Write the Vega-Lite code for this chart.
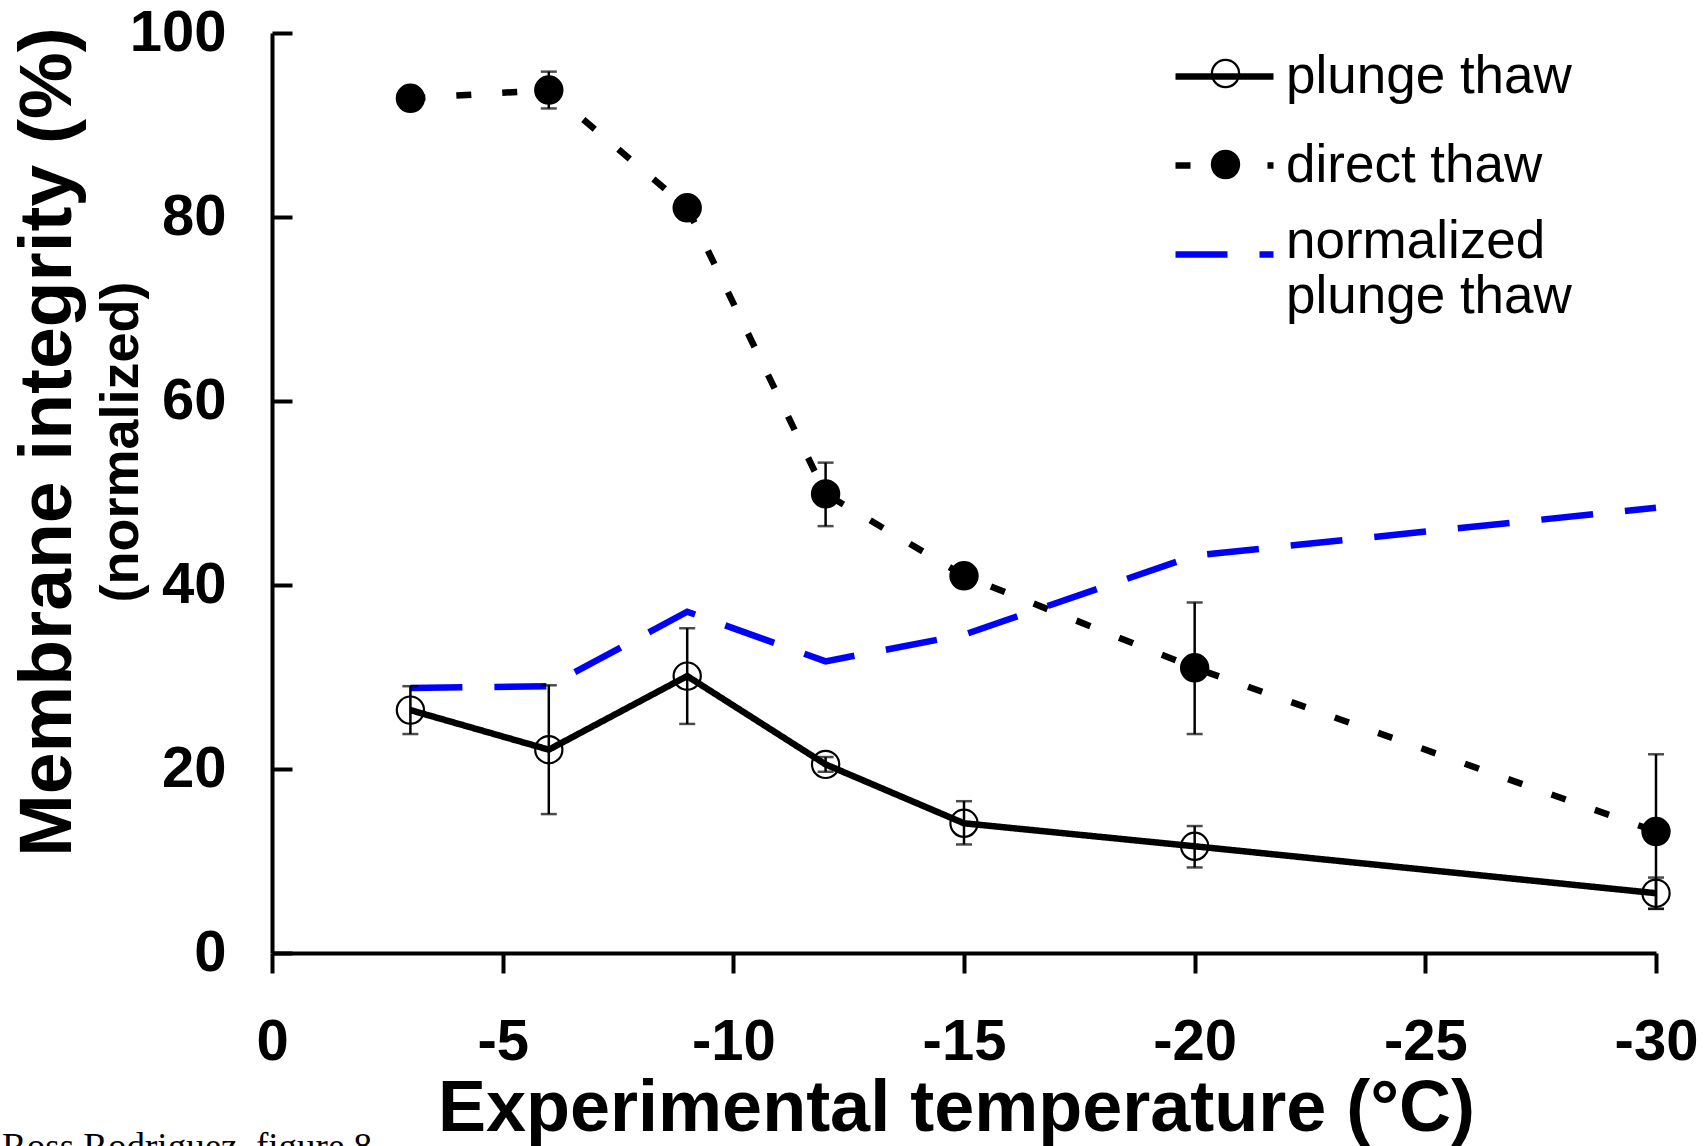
{
  "$schema": "https://vega.github.io/schema/vega-lite/v6.json",
  "width": 1384,
  "height": 920,
  "autosize": {"type": "none"},
  "padding": {"left": 272, "top": 33, "right": 50, "bottom": 193},
  "background": "white",
  "config": {
    "view": {"stroke": null},
    "font": "Liberation Sans",
    "axis": {
      "grid": false,
      "domainColor": "black",
      "domainWidth": 4,
      "tickColor": "black",
      "tickWidth": 4,
      "labelColor": "black",
      "labelFont": "Liberation Sans",
      "labelFontWeight": "bold",
      "labelFontSize": 58,
      "labelFlush": false,
      "labelOverlap": false,
      "titleColor": "black",
      "titleFont": "Liberation Sans",
      "titleFontWeight": "bold"
    }
  },
  "title": {
    "text": "Membrane integrity (%)",
    "subtitle": "(normalized)\u00a0\u00a0",
    "orient": "left",
    "anchor": "middle",
    "font": "Liberation Sans",
    "fontSize": 75,
    "fontWeight": "bold",
    "color": "black",
    "subtitleFont": "Liberation Sans",
    "subtitleFontSize": 54,
    "subtitleFontWeight": "bold",
    "subtitleColor": "black",
    "subtitlePadding": 8,
    "offset": -148,
    "dx": 51
  },
  "datasets": {
    "series": [
      {"t": -3, "series": "plunge thaw", "v": 26.4, "lo": 23.8, "hi": 29.0},
      {"t": -6, "series": "plunge thaw", "v": 22.1, "lo": 15.1, "hi": 29.1},
      {"t": -9, "series": "plunge thaw", "v": 30.1, "lo": 24.9, "hi": 35.3},
      {"t": -12, "series": "plunge thaw", "v": 20.5, "lo": 19.7, "hi": 21.3},
      {"t": -15, "series": "plunge thaw", "v": 14.1, "lo": 11.8, "hi": 16.5},
      {"t": -20, "series": "plunge thaw", "v": 11.6, "lo": 9.3, "hi": 13.8},
      {"t": -30, "series": "plunge thaw", "v": 6.5, "lo": 4.8, "hi": 8.2},
      {"t": -3, "series": "direct thaw", "v": 92.9, "lo": 92.2, "hi": 93.6},
      {"t": -6, "series": "direct thaw", "v": 93.8, "lo": 91.8, "hi": 95.8},
      {"t": -9, "series": "direct thaw", "v": 81.0, "lo": 80.3, "hi": 81.7},
      {"t": -12, "series": "direct thaw", "v": 49.9, "lo": 46.4, "hi": 53.3},
      {"t": -15, "series": "direct thaw", "v": 41.0, "lo": 40.3, "hi": 41.7},
      {"t": -20, "series": "direct thaw", "v": 31.0, "lo": 23.8, "hi": 38.1},
      {"t": -30, "series": "direct thaw", "v": 13.2, "lo": 4.8, "hi": 21.6},
      {"t": -3, "series": "normalized plunge thaw", "v": 28.8},
      {"t": -6, "series": "normalized plunge thaw", "v": 29.0},
      {"t": -9, "series": "normalized plunge thaw", "v": 37.1},
      {"t": -12, "series": "normalized plunge thaw", "v": 31.7},
      {"t": -15, "series": "normalized plunge thaw", "v": 34.6},
      {"t": -20, "series": "normalized plunge thaw", "v": 43.2},
      {"t": -30, "series": "normalized plunge thaw", "v": 48.4}
    ],
    "notes": [
      {"note": "Ross Rodriguez, figure 8", "nx": 5.85, "ny": -22.4}
    ]
  },
  "layer": [
    {
      "data": {"name": "series"},
      "mark": {"type": "line", "strokeWidth": 6.5, "strokeCap": "butt"},
      "encoding": {
        "x": {
          "field": "t",
          "type": "quantitative",
          "scale": {"domain": [0, -30], "nice": false, "zero": false},
          "axis": {
            "values": [0, -5, -10, -15, -20, -25, -30],
            "labelExpr": "datum.value == 0 ? '0' : '-' + abs(datum.value)",
            "title": "Experimental temperature (°C)",
            "titleFontSize": 72,
            "titlePadding": 2,
            "titleX": 684,
            "tickSize": 20,
            "labelPadding": 40
          }
        },
        "y": {
          "field": "v",
          "type": "quantitative",
          "scale": {"domain": [0, 100], "nice": false},
          "axis": {
            "values": [0, 20, 40, 60, 80, 100],
            "title": null,
            "tickSize": -20,
            "labelPadding": 66
          }
        },
        "color": {
          "field": "series",
          "type": "nominal",
          "scale": {
            "domain": ["plunge thaw", "direct thaw", "normalized plunge thaw"],
            "range": ["black", "black", "#0000ff"]
          },
          "legend": {
            "orient": "none",
            "legendX": 900,
            "legendY": -9,
            "title": null,
            "padding": 0,
            "symbolType": "stroke",
            "symbolSize": 9604,
            "symbolStrokeWidth": 6.5,
            "labelFont": "Liberation Sans",
            "labelFontSize": 53,
            "labelColor": "black",
            "labelLimit": 700,
            "labelOffset": 9,
            "rowPadding": 9,
            "labelExpr": "datum.label == 'normalized plunge thaw' ? ['normalized', 'plunge thaw'] : datum.label",
            "encode": {
              "labels": {
                "update": {
                  "dy": {"signal": "datum.value == 'normalized plunge thaw' ? -13 : 0"}
                }
              }
            }
          }
        },
        "strokeDash": {
          "field": "series",
          "type": "nominal",
          "scale": {
            "domain": ["plunge thaw", "direct thaw", "normalized plunge thaw"],
            "range": [[1, 0], [15, 31], [52, 32]]
          },
          "legend": {
            "orient": "none",
            "legendX": 900,
            "legendY": -9,
            "title": null
          }
        }
      }
    },
    {
      "data": {"name": "series"},
      "transform": [{"filter": "datum.series != 'normalized plunge thaw'"}],
      "mark": {"type": "errorbar", "ticks": {"size": 16, "thickness": 2.5}, "rule": {"strokeWidth": 2.5}, "thickness": 2.5, "color": "black"},
      "encoding": {
        "x": {"field": "t", "type": "quantitative"},
        "y": {"field": "lo", "type": "quantitative", "title": null},
        "y2": {"field": "hi"}
      }
    },
    {
      "data": {"name": "series"},
      "transform": [{"filter": "datum.series != 'normalized plunge thaw'"}],
      "mark": {"type": "point", "shape": "circle", "size": 740, "stroke": "black", "strokeWidth": 2.2, "opacity": 1},
      "encoding": {
        "x": {"field": "t", "type": "quantitative"},
        "y": {"field": "v", "type": "quantitative"},
        "fill": {
          "field": "series",
          "type": "nominal",
          "scale": {"domain": ["plunge thaw", "direct thaw"], "range": ["rgba(0,0,0,0)", "black"]},
          "legend": {
            "orient": "none",
            "legendX": 927,
            "legendY": 14,
            "title": null,
            "padding": 0,
            "symbolType": "circle",
            "symbolSize": 740,
            "symbolStrokeColor": "black",
            "symbolStrokeWidth": 2.2,
            "labelFont": "Liberation Sans",
            "labelFontSize": 53,
            "labelColor": "rgba(0,0,0,0)",
            "labelLimit": 700,
            "labelOffset": 9,
            "rowPadding": 37
          }
        }
      }
    },
    {
      "data": {"name": "notes"},
      "mark": {"type": "text", "font": "Liberation Serif", "fontSize": 37, "align": "left", "baseline": "alphabetic", "color": "black"},
      "encoding": {
        "x": {"field": "nx", "type": "quantitative"},
        "y": {"field": "ny", "type": "quantitative"},
        "text": {"field": "note"}
      }
    }
  ]
}
